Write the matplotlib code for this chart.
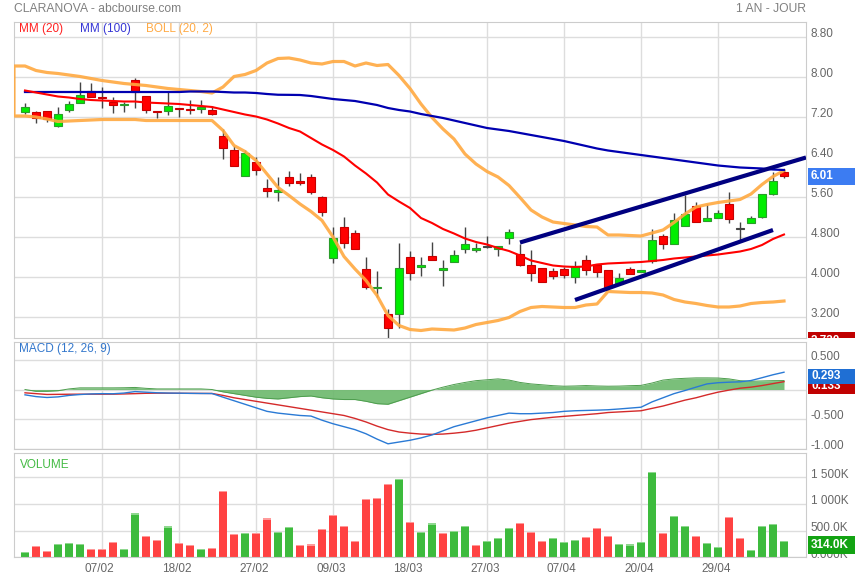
import numpy as np
import matplotlib
matplotlib.use('Agg')
import matplotlib.pyplot as plt
from matplotlib.patches import Rectangle
from matplotlib.transforms import (Bbox, TransformedBbox, ScaledTranslation,
                                   blended_transform_factory)

plt.rcParams['font.family'] = ['Liberation Sans', 'DejaVu Sans']

# ---- data (daily, 29/01 -> 08/05) ----
opens = [7.29, 7.30, 7.32, 7.01, 7.33, 7.47, 7.71, 7.60, 7.50, 7.44,
         7.93, 7.62, 7.32, 7.31, 7.36, 7.35, 7.35, 7.33, 6.82, 6.54,
         6.01, 6.30, 5.78, 5.69, 5.99, 5.92, 6.00, 5.60, 4.37, 5.00,
         4.87, 4.15, 3.77, 3.25, 3.25, 4.39, 4.19, 4.41, 4.13, 4.29,
         4.55, 4.53, 4.60, 4.56, 4.77, 4.46, 4.24, 4.18, 4.11, 4.15,
         3.99, 4.34, 4.23, 4.13, 3.86, 4.16, 4.09, 4.31, 4.81, 4.66,
         5.01, 5.41, 5.11, 5.18, 5.45, 4.95, 5.08, 5.19, 5.66, 6.09]
highs = [7.47, 7.32, 7.32, 7.40, 7.52, 7.90, 7.87, 7.80, 7.60, 7.50,
         7.97, 7.62, 7.32, 7.72, 7.36, 7.53, 7.53, 7.42, 6.95, 6.62,
         6.54, 6.40, 5.95, 5.99, 6.12, 6.07, 6.05, 5.62, 5.00, 5.20,
         4.94, 4.39, 4.12, 3.35, 4.67, 4.52, 4.40, 4.70, 4.33, 4.54,
         5.00, 4.67, 4.82, 4.62, 4.95, 4.66, 4.53, 4.18, 4.17, 4.19,
         4.31, 4.43, 4.26, 4.13, 4.08, 4.19, 4.14, 4.96, 4.86, 5.27,
         5.63, 5.49, 5.46, 5.33, 5.69, 5.09, 5.21, 5.66, 6.09, 6.13]
lows = [7.25, 7.07, 7.09, 6.99, 7.30, 7.47, 7.59, 7.37, 7.27, 7.30,
        7.37, 7.27, 7.17, 7.23, 7.19, 7.25, 7.27, 7.23, 6.35, 6.21,
        6.01, 6.04, 5.59, 5.52, 5.82, 5.84, 5.65, 5.22, 4.27, 4.57,
        4.55, 3.75, 3.59, 2.74, 2.97, 3.94, 4.02, 4.33, 3.82, 4.29,
        4.47, 4.49, 4.58, 4.42, 4.66, 4.21, 3.91, 3.89, 3.95, 3.97,
        3.87, 4.04, 3.99, 3.76, 3.83, 4.05, 4.09, 4.27, 4.55, 4.66,
        5.01, 5.09, 5.11, 5.18, 5.07, 4.73, 5.08, 5.17, 5.64, 5.98]
closes = [7.40, 7.17, 7.15, 7.25, 7.45, 7.63, 7.59, 7.57, 7.43, 7.46,
          7.69, 7.33, 7.29, 7.41, 7.35, 7.34, 7.40, 7.25, 6.57, 6.21,
          6.47, 6.14, 5.71, 5.73, 5.88, 5.87, 5.69, 5.29, 4.77, 4.67,
          4.55, 3.80, 3.795, 2.97, 4.17, 4.07, 4.23, 4.33, 4.18, 4.43,
          4.65, 4.57, 4.60, 4.615, 4.90, 4.24, 4.07, 3.89, 4.01, 4.04,
          4.21, 4.14, 4.09, 3.79, 3.98, 4.06, 4.13, 4.74, 4.66, 5.13,
          5.25, 5.09, 5.18, 5.28, 5.16, 4.95, 5.18, 5.66, 5.91, 6.01]
volumes = [94, 212, 119, 256, 275, 256, 150, 150, 281, 162,
           824, 400, 325, 580, 268, 225, 156, 181, 1242, 437,
           456, 456, 730, 480, 562, 237, 243, 530, 792, 593,
           306, 1092, 1111, 1373, 1466, 661, 477, 636, 462, 499,
           587, 231, 312, 362, 555, 649, 480, 300, 356, 281,
           324, 387, 549, 399, 250, 243, 287, 1597, 456, 774,
           593, 399, 268, 187, 755, 356, 137, 587, 624, 314]

mm20 = [7.72, 7.68, 7.64, 7.60, 7.58, 7.55, 7.53, 7.52, 7.51, 7.50,
        7.50, 7.48, 7.47, 7.46, 7.45, 7.43, 7.41, 7.39, 7.34, 7.29,
        7.24, 7.20, 7.14, 7.06, 6.97, 6.90, 6.77, 6.64, 6.53, 6.40,
        6.22, 6.06, 5.88, 5.64, 5.50, 5.37, 5.17, 5.07, 4.95, 4.86,
        4.76, 4.69, 4.64, 4.57, 4.51, 4.42, 4.32, 4.27, 4.22, 4.20,
        4.19, 4.20, 4.24, 4.26, 4.27, 4.28, 4.29, 4.31, 4.33, 4.36,
        4.38, 4.40, 4.42, 4.44, 4.47, 4.50, 4.55, 4.63, 4.75, 4.84]
mm100 = [7.69, 7.69, 7.69, 7.69, 7.69, 7.69, 7.69, 7.69, 7.69, 7.69,
         7.69, 7.69, 7.69, 7.69, 7.69, 7.70, 7.70, 7.70, 7.69, 7.68,
         7.68, 7.67, 7.65, 7.635, 7.633, 7.63, 7.61, 7.58, 7.55, 7.53,
         7.51, 7.47, 7.43, 7.37, 7.33, 7.30, 7.25, 7.21, 7.17, 7.12,
         7.07, 7.02, 6.97, 6.94, 6.91, 6.87, 6.83, 6.79, 6.75, 6.71,
         6.66, 6.61, 6.56, 6.52, 6.49, 6.46, 6.43, 6.40, 6.37, 6.34,
         6.31, 6.28, 6.25, 6.22, 6.20, 6.18, 6.17, 6.16, 6.14, 6.13]
# bollinger bands start one session before the first candle
boll_upper = [8.21, 8.21, 8.12, 8.08, 8.06, 8.03, 8.00, 7.96, 7.92, 7.89,
              7.86, 7.84, 7.82, 7.79, 7.76, 7.74, 7.72, 7.70, 7.67, 7.79,
              8.00, 8.04, 8.12, 8.27, 8.36, 8.37, 8.33, 8.27, 8.25, 8.30,
              8.30, 8.21, 8.27, 8.22, 8.24, 8.02, 7.76, 7.45, 7.18, 6.95,
              6.75, 6.45, 6.25, 6.10, 5.99, 5.82, 5.58, 5.33, 5.19, 5.09,
              5.06, 5.03, 5.00, 4.99, 4.83, 4.83, 4.82, 4.81, 4.87, 4.93,
              5.08, 5.25, 5.39, 5.44, 5.48, 5.51, 5.54, 5.65, 5.84, 6.00,
              6.12]
boll_lower = [7.21, 7.21, 7.19, 7.15, 7.10, 7.11, 7.12, 7.13, 7.14, 7.14,
              7.14, 7.14, 7.12, 7.12, 7.12, 7.12, 7.12, 7.12, 7.12, 6.92,
              6.62, 6.50, 6.32, 6.05, 5.78, 5.62, 5.45, 5.30, 5.12, 4.79,
              4.40, 4.15, 3.92, 3.62, 3.22, 3.02, 2.94, 2.92, 2.95, 2.94,
              2.93, 2.97, 3.04, 3.08, 3.12, 3.18, 3.30, 3.38, 3.40, 3.39,
              3.38, 3.38, 3.43, 3.45, 3.70, 3.69, 3.68, 3.68, 3.67, 3.63,
              3.54, 3.49, 3.46, 3.42, 3.39, 3.39, 3.41, 3.46, 3.48, 3.49,
              3.51]
trend_up = [(45, 4.68), (71, 6.38)]
trend_low = [(50, 3.53), (68, 4.93)]

macd = [-0.09, -0.12, -0.135, -0.125, -0.10, -0.085, -0.075, -0.07, -0.072, -0.06,
        -0.035, -0.045, -0.055, -0.06, -0.062, -0.065, -0.067, -0.068, -0.13, -0.19,
        -0.25, -0.31, -0.37, -0.40, -0.42, -0.44, -0.45, -0.52, -0.58, -0.63,
        -0.68, -0.75, -0.84, -0.92, -0.89, -0.86, -0.82, -0.77, -0.70, -0.63,
        -0.58, -0.53, -0.48, -0.44, -0.40, -0.41, -0.41, -0.40, -0.39, -0.37,
        -0.36, -0.355, -0.35, -0.343, -0.33, -0.315, -0.30, -0.21, -0.14, -0.07,
        -0.017, 0.04, 0.095, 0.115, 0.124, 0.13, 0.152, 0.20, 0.25, 0.293]
signal = [-0.056, -0.07, -0.084, -0.082, -0.08, -0.079, -0.079, -0.079, -0.079, -0.075,
          -0.07, -0.064, -0.062, -0.063, -0.064, -0.065, -0.066, -0.067, -0.10, -0.14,
          -0.17, -0.20, -0.23, -0.26, -0.29, -0.32, -0.35, -0.38, -0.41, -0.44,
          -0.49, -0.55, -0.62, -0.68, -0.72, -0.74, -0.755, -0.76, -0.755, -0.74,
          -0.72, -0.69, -0.65, -0.61, -0.57, -0.54, -0.51, -0.49, -0.47, -0.455,
          -0.44, -0.425, -0.41, -0.39, -0.38, -0.37, -0.36, -0.32, -0.28, -0.23,
          -0.18, -0.14, -0.09, -0.045, -0.01, 0.022, 0.04, 0.067, 0.10, 0.133]
hist = [0.0, -0.03, -0.03, -0.02, 0.01, 0.028, 0.028, 0.028, 0.028, 0.03,
        0.035, 0.02, 0.01, 0.01, 0.01, 0.01, 0.01, 0.0, -0.04, -0.07,
        -0.10, -0.13, -0.15, -0.16, -0.14, -0.12, -0.11, -0.14, -0.16, -0.17,
        -0.17, -0.20, -0.24, -0.25, -0.19, -0.13, -0.07, -0.01, 0.04, 0.085,
        0.12, 0.15, 0.165, 0.18, 0.16, 0.12, 0.095, 0.08, 0.065, 0.056,
        0.06, 0.067, 0.06, 0.056, 0.058, 0.065, 0.07, 0.11, 0.16, 0.18,
        0.19, 0.197, 0.197, 0.195, 0.18, 0.15, 0.14, 0.145, 0.15, 0.152]

date_pos = [7, 14, 21, 28, 35, 42, 49, 56, 63]
date_labels = ['07/02', '18/02', '27/02', '09/03', '18/03', '27/03', '07/04', '20/04', '29/04']

price_ticks = [8.8, 8.0, 7.2, 6.4, 5.6, 4.8, 4.0, 3.2]
price_labels = ['8.80', '8.00', '7.20', '6.40', '5.60', '4.800', '4.000', '3.200']
macd_ticks = [0.5, 0.0, -0.5, -1.0]
macd_labels = ['0.500', '0.000', '-0.500', '-1.000']
vol_ticks = [1500, 1000, 500, 0]
vol_labels = ['1 500K', '1 000K', '500.0K', '0.000K']

W, H = 855, 580
o = np.array(opens); c = np.array(closes)
hi = np.array(highs); lo = np.array(lows)
x = np.arange(len(c))

fig = plt.figure(figsize=(W / 100, H / 100), dpi=100)


def panel(top, bottom):
    return fig.add_axes([14 / W, 1 - bottom / H, 792 / W, (bottom - top) / H])


ax = panel(21.5, 338)
axm = panel(342.3, 449)
axv = panel(452.7, 557.3)

GREY = '#666666'


def style(a, ticks, labels):
    a.set_xlim(-1, 71)
    a.set_xticks(date_pos)
    a.set_yticks(ticks)
    a.grid(True, color='#dddddd', lw=1)
    a.set_axisbelow(True)
    a.tick_params(length=0, labelleft=False, labelbottom=False)
    for s in a.spines.values():
        s.set_color('#cccccc')
    tr = blended_transform_factory(a.transAxes, a.transData) + \
        ScaledTranslation(0, 2 / 72, fig.dpi_scale_trans)
    for v, s in zip(ticks, labels):
        a.text(1.006, v, s, transform=tr, ha='left', va='center',
               fontsize=8.5, color=GREY, clip_on=False)


# ---- price panel ----
ax.set_ylim(2.77, 9.10)
style(ax, price_ticks, price_labels)

ax.vlines(x, lo, hi, color='#444444', lw=1, zorder=2)
body_col = np.where(c > o, '#00ee00', np.where(c < o, '#ff0000', '#444444'))
edge_col = np.where(c > o, '#2a9d2a', np.where(c < o, '#c80000', '#444444'))
ax.bar(x, np.maximum(np.abs(c - o), 0.012), bottom=np.minimum(o, c), width=0.72,
       color=body_col, edgecolor=edge_col, lw=0.8, zorder=3)

bx = np.arange(-1, len(c))
ax.plot(np.r_[bx[::-1], bx], np.r_[boll_lower[::-1], boll_upper],
        color='#ffa940', lw=2.3, alpha=0.9, zorder=4, solid_joinstyle='round')
ax.plot(x, mm100, color='#0000b0', lw=1.6, zorder=5)
ax.plot(x, mm20, color='#ff0000', lw=1.5, zorder=5)
for t in (trend_up, trend_low):
    ax.plot([t[0][0], t[1][0]], [t[0][1], t[1][1]], color='#000080', lw=3,
            zorder=6, solid_capstyle='butt')

fig.text(14 / W, 1 - 9 / H, 'CLARANOVA - abcbourse.com', fontsize=8.7,
         color='#808080', va='center')
fig.text(806 / W, 1 - 9 / H, '1 AN - JOUR', fontsize=8.7, color='#808080',
         va='center', ha='right')
fig.text(19 / W, 1 - 29.3 / H, 'MM (20)', fontsize=8.5, color='#ff2020', va='center')
fig.text(80 / W, 1 - 29.3 / H, 'MM (100)', fontsize=8.5, color='#3535d5', va='center')
fig.text(145.5 / W, 1 - 29.3 / H, 'BOLL (20, 2)', fontsize=8.5, color='#ffaa44',
         va='center')

# ---- MACD panel ----
axm.set_ylim(-1.008, 0.80)
style(axm, macd_ticks, macd_labels)
axm.fill_between(x, 0, hist, color='#6cb86c', alpha=0.9, lw=0, zorder=2)
axm.plot(x, hist, color='#4d9d4d', lw=0.7, zorder=2)
axm.plot(x, signal, color='#d42a2a', lw=1, zorder=3)
axm.plot(x, macd, color='#2a7ad5', lw=1, zorder=4)
axm.text(19 / 792 * 0 + 0.006, 0.94, 'MACD (12, 26, 9)', transform=axm.transAxes,
         fontsize=8.5, color='#3377cc', va='center')

# ---- volume panel ----
axv.set_ylim(0, 1961)
style(axv, vol_ticks, vol_labels)
vol = np.array(volumes)
up = np.r_[c[0] > o[0], c[1:] > c[:-1]]
axv.bar(x, vol, width=0.8, color=np.where(up, '#3dbb3d', '#ff4242'), lw=0, zorder=2)
axv.bar(x, 22, bottom=vol - 22, width=0.8,
        color=np.where(up, '#8fd88f', '#ff9a9a'), lw=0, zorder=2)
axv.text(0.007, 0.885, 'VOLUME', transform=axv.transAxes, fontsize=8.5,
         color='#44bb44', va='center')
trx = blended_transform_factory(axv.transData, axv.transAxes)
for p, s in zip(date_pos, date_labels):
    axv.text(p - 0.2, -0.112, s, transform=trx, ha='center', va='center',
             fontsize=8.5, color=GREY, clip_on=False)


# ---- value tags on the right ----
def tag(a, value, label, color, h_px, dy_px=0, z=5, clip=None):
    y0, y1 = a.get_ylim()
    per_px = (y1 - y0) / (a.get_position().height * H)
    yc = value - dy_px * per_px
    tr = blended_transform_factory(fig.transFigure, a.transData)
    r = Rectangle((808 / W, yc - h_px / 2 * per_px), (W - 808) / W, h_px * per_px,
                  transform=tr, fc=color, ec='none', zorder=z)
    fig.add_artist(r)
    t = fig.text(811 / W, yc, label, transform=tr, color='white', fontsize=8.5,
                 fontweight='bold', va='center', ha='left', zorder=z + 0.5)
    if clip is not None:
        r.set_clip_box(clip)
        t.set_clip_box(clip)


main_clip = TransformedBbox(Bbox([[0, 1 - 338 / H], [1, 1]]), fig.transFigure)
tag(ax, closes[-1], '6.01', '#3c7cf2', 17)
tag(ax, 2.72, '2.720', '#c00000', 17, clip=main_clip)
tag(axm, signal[-1], '0.133', '#c00000', 15, dy_px=4.7, z=5)
tag(axm, macd[-1], '0.293', '#1f6fd4', 15, dy_px=4, z=7)
tag(axv, volumes[-1], '314.0K', '#13a313', 18, dy_px=4.5)

fig.savefig('out.png', dpi=100)
